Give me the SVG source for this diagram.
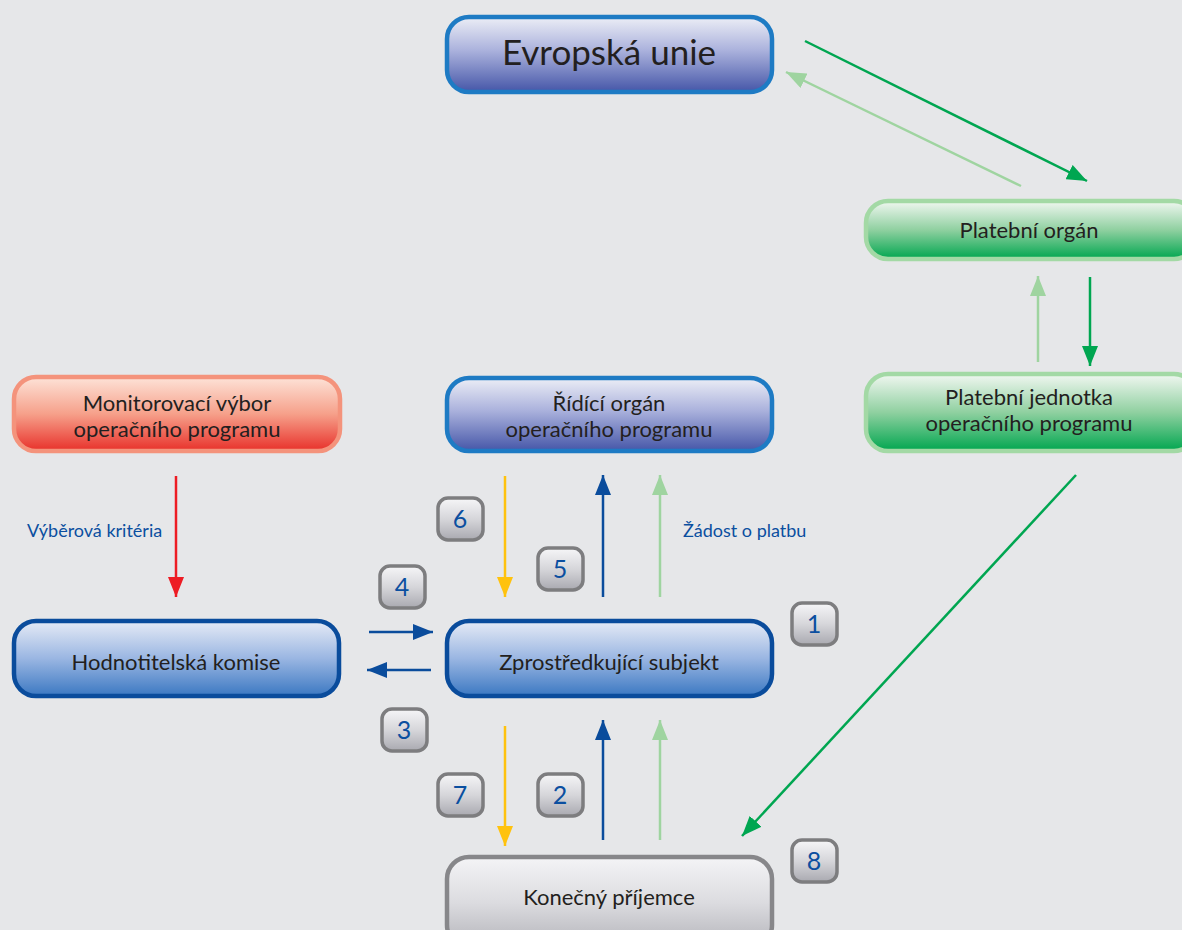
<svg xmlns="http://www.w3.org/2000/svg" width="1182" height="930" viewBox="0 0 1182 930">
<style>
.lbl{font-family:Lato,"Noto Sans","Liberation Sans",sans-serif;fill:#231f20;text-anchor:middle;font-size:22px}
.num{font-family:Lato,"Noto Sans","Liberation Sans",sans-serif;fill:#0b4fa0;font-size:25px;text-anchor:middle}
.cap{font-family:Lato,"Noto Sans","Liberation Sans",sans-serif;fill:#0b4fa0;font-size:18px}
.badge rect{fill:url(#gGray);stroke:#7d7d7f;stroke-width:3.5}
.ln{fill:none}
</style>
<defs>
<linearGradient id="gLav" x1="0" y1="0" x2="0" y2="1">
<stop offset="0" stop-color="#eceef6"/><stop offset="0.45" stop-color="#aab1dc"/><stop offset="1" stop-color="#4556a8"/>
</linearGradient>
<linearGradient id="gBlue" x1="0" y1="0" x2="0" y2="1">
<stop offset="0" stop-color="#e6ebf6"/><stop offset="0.5" stop-color="#9ab6e2"/><stop offset="1" stop-color="#3b78c2"/>
</linearGradient>
<linearGradient id="gGreen" x1="0" y1="0" x2="0" y2="1">
<stop offset="0" stop-color="#f1f7f1"/><stop offset="0.5" stop-color="#8fd0a0"/><stop offset="1" stop-color="#00a64f"/>
</linearGradient>
<linearGradient id="gRed" x1="0" y1="0" x2="0" y2="1">
<stop offset="0" stop-color="#fde3d8"/><stop offset="0.5" stop-color="#f6a08a"/><stop offset="1" stop-color="#e8302a"/>
</linearGradient>
<linearGradient id="gGrayN" x1="0" y1="0" x2="0" y2="1">
<stop offset="0" stop-color="#f4f4f6"/><stop offset="0.5" stop-color="#dcdce0"/><stop offset="1" stop-color="#b4b4ba"/>
</linearGradient>
<linearGradient id="gGray" x1="0" y1="0" x2="0" y2="1">
<stop offset="0" stop-color="#f6f6f8"/><stop offset="0.5" stop-color="#d6d6da"/><stop offset="1" stop-color="#a9a9b0"/>
</linearGradient>
<marker id="mDG" markerUnits="userSpaceOnUse" markerWidth="22" markerHeight="16" refX="20" refY="8" orient="auto"><path d="M0,0 L20,8 L0,16 z" fill="#00a651"/></marker>
<marker id="mLG" markerUnits="userSpaceOnUse" markerWidth="22" markerHeight="16" refX="20" refY="8" orient="auto"><path d="M0,0 L20,8 L0,16 z" fill="#9fd4a0"/></marker>
<marker id="mB" markerUnits="userSpaceOnUse" markerWidth="22" markerHeight="16" refX="20" refY="8" orient="auto"><path d="M0,0 L20,8 L0,16 z" fill="#0a4c9c"/></marker>
<marker id="mY" markerUnits="userSpaceOnUse" markerWidth="22" markerHeight="16" refX="20" refY="8" orient="auto"><path d="M0,0 L20,8 L0,16 z" fill="#ffc20e"/></marker>
<marker id="mR" markerUnits="userSpaceOnUse" markerWidth="22" markerHeight="16" refX="20" refY="8" orient="auto"><path d="M0,0 L20,8 L0,16 z" fill="#ed1c24"/></marker>
</defs>
<rect x="0" y="0" width="1182" height="930" fill="#e6e7e9"/>

<g id="connectors">
<line class="ln" x1="805" y1="41" x2="1087" y2="181" stroke="#00a651" stroke-width="2.5" marker-end="url(#mDG)"/>
<line class="ln" x1="1021" y1="186" x2="786" y2="72" stroke="#9fd4a0" stroke-width="2.5" marker-end="url(#mLG)"/>
<line class="ln" x1="1038" y1="362" x2="1038" y2="276" stroke="#9fd4a0" stroke-width="2.5" marker-end="url(#mLG)"/>
<line class="ln" x1="1090" y1="277" x2="1090" y2="366" stroke="#00a651" stroke-width="2.5" marker-end="url(#mDG)"/>
<line class="ln" x1="1076" y1="475" x2="742" y2="836" stroke="#00a651" stroke-width="2.5" marker-end="url(#mDG)"/>
<line class="ln" x1="176" y1="476" x2="176" y2="597" stroke="#ed1c24" stroke-width="2.5" marker-end="url(#mR)"/>
<line class="ln" x1="505" y1="476" x2="505" y2="597" stroke="#ffc20e" stroke-width="2.5" marker-end="url(#mY)"/>
<line class="ln" x1="603" y1="597" x2="603" y2="475" stroke="#0a4c9c" stroke-width="2.5" marker-end="url(#mB)"/>
<line class="ln" x1="660" y1="597" x2="660" y2="475" stroke="#9fd4a0" stroke-width="2.5" marker-end="url(#mLG)"/>
<line class="ln" x1="369" y1="632" x2="433" y2="632" stroke="#0a4c9c" stroke-width="2.5" marker-end="url(#mB)"/>
<line class="ln" x1="431" y1="670" x2="367" y2="670" stroke="#0a4c9c" stroke-width="2.5" marker-end="url(#mB)"/>
<line class="ln" x1="505" y1="726" x2="505" y2="846" stroke="#ffc20e" stroke-width="2.5" marker-end="url(#mY)"/>
<line class="ln" x1="603" y1="840" x2="603" y2="720" stroke="#0a4c9c" stroke-width="2.5" marker-end="url(#mB)"/>
<line class="ln" x1="660" y1="840" x2="660" y2="720" stroke="#9fd4a0" stroke-width="2.5" marker-end="url(#mLG)"/>
<text class="cap" x="27" y="537">Výběrová kritéria</text>
<text class="cap" x="683" y="537">Žádost o platbu</text>
</g>

<g id="evropska-unie">
<rect x="447" y="17" width="325" height="75" rx="22" fill="url(#gLav)" stroke="#1e7bc4" stroke-width="4.5"/>
<text class="lbl" x="609" y="65" style="font-size:35px">Evropská unie</text>
</g>
<g id="platebni-organ">
<rect x="866" y="201" width="330" height="58" rx="22" fill="url(#gGreen)" stroke="#a3d9a5" stroke-width="4.5"/>
<text class="lbl" x="1029" y="238">Platební orgán</text>
</g>
<g id="platebni-jednotka">
<rect x="866" y="374" width="330" height="77" rx="22" fill="url(#gGreen)" stroke="#a3d9a5" stroke-width="4.5"/>
<text class="lbl" x="1029" y="405">Platební jednotka</text>
<text class="lbl" x="1029" y="431">operačního programu</text>
</g>
<g id="monitorovaci-vybor">
<rect x="14" y="377" width="326" height="74" rx="22" fill="url(#gRed)" stroke="#f4937c" stroke-width="4.5"/>
<text class="lbl" x="177" y="411">Monitorovací výbor</text>
<text class="lbl" x="177" y="437">operačního programu</text>
</g>
<g id="ridici-organ">
<rect x="447" y="378" width="325" height="73" rx="22" fill="url(#gLav)" stroke="#1e7bc4" stroke-width="4.5"/>
<text class="lbl" x="609" y="411">Řídící orgán</text>
<text class="lbl" x="609" y="437">operačního programu</text>
</g>
<g id="hodnotitelska-komise">
<rect x="14" y="621" width="325" height="75" rx="22" fill="url(#gBlue)" stroke="#0a4c9c" stroke-width="4.5"/>
<text class="lbl" x="176" y="670">Hodnotitelská komise</text>
</g>
<g id="zprostredkujici-subjekt">
<rect x="447" y="621" width="325" height="75" rx="22" fill="url(#gBlue)" stroke="#0a4c9c" stroke-width="4.5"/>
<text class="lbl" x="609" y="670">Zprostředkující subjekt</text>
</g>
<g id="konecny-prijemce">
<rect x="447" y="857" width="325" height="90" rx="22" fill="url(#gGrayN)" stroke="#87878a" stroke-width="4.5"/>
<text class="lbl" x="609" y="905">Konečný příjemce</text>
</g>

<g id="badge-1" class="badge"><rect x="792" y="603" width="45" height="42" rx="10"/><text class="num" x="814" y="633">1</text></g>
<g id="badge-2" class="badge"><rect x="538" y="774" width="45" height="42" rx="10"/><text class="num" x="560" y="804">2</text></g>
<g id="badge-3" class="badge"><rect x="382" y="709" width="45" height="42" rx="10"/><text class="num" x="404" y="739">3</text></g>
<g id="badge-4" class="badge"><rect x="380" y="566" width="45" height="42" rx="10"/><text class="num" x="402" y="596">4</text></g>
<g id="badge-5" class="badge"><rect x="538" y="548" width="45" height="42" rx="10"/><text class="num" x="560" y="578">5</text></g>
<g id="badge-6" class="badge"><rect x="438" y="498" width="45" height="42" rx="10"/><text class="num" x="460" y="528">6</text></g>
<g id="badge-7" class="badge"><rect x="438" y="774" width="45" height="42" rx="10"/><text class="num" x="460" y="804">7</text></g>
<g id="badge-8" class="badge"><rect x="792" y="840" width="45" height="42" rx="10"/><text class="num" x="814" y="870">8</text></g>
</svg>
